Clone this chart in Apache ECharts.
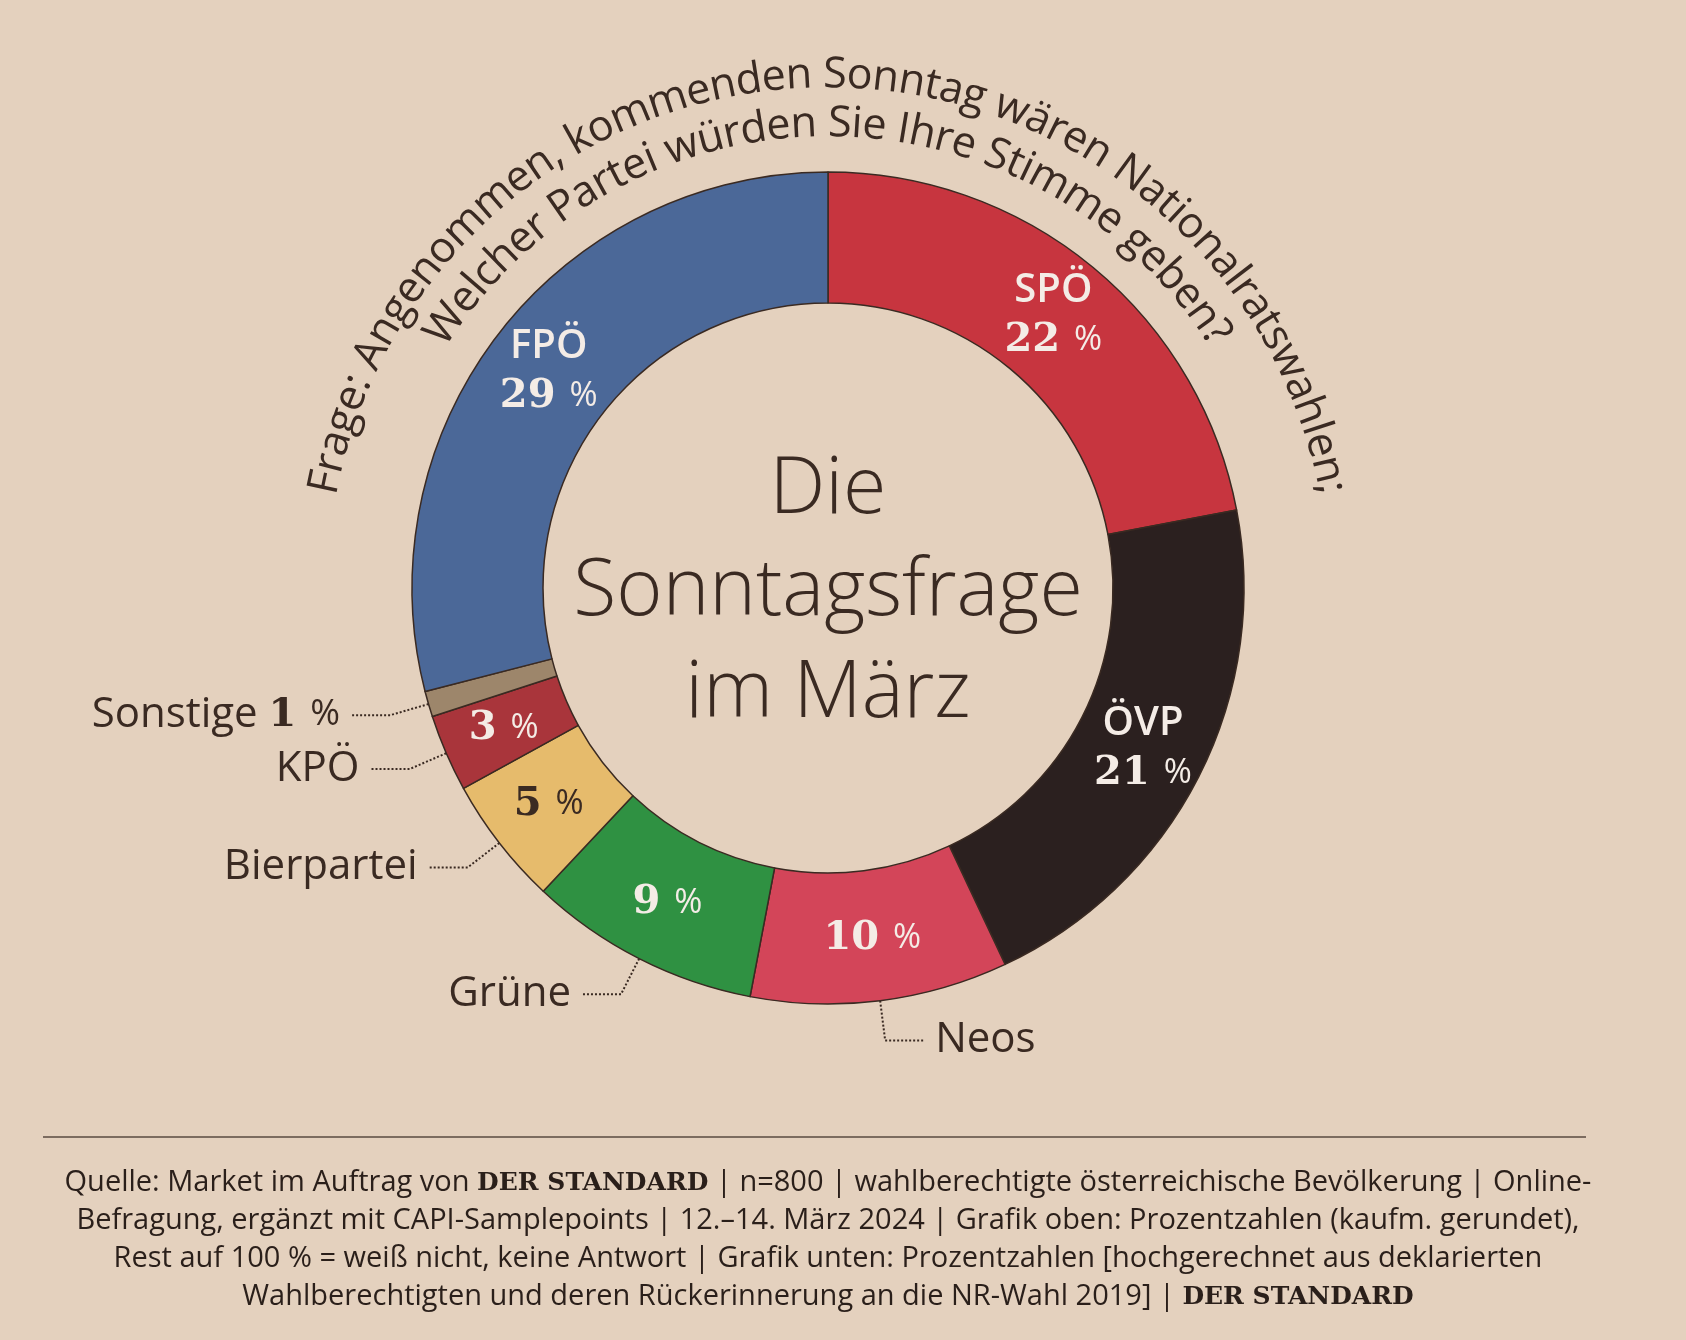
<!DOCTYPE html>
<html><head><meta charset="utf-8">
<script src="https://cdn.jsdelivr.net/npm/echarts@6/dist/echarts.min.js"></script>
<style>html,body{margin:0;padding:0;background:#e4d1be}#c{width:1686px;height:1340px}</style>
</head><body><div id="c"></div>
<script>
const parties = ["SPÖ", "ÖVP", "Neos", "Grüne", "Bierpartei", "KPÖ", "Sonstige", "FPÖ"];
const shares = [22, 21, 10, 9, 5, 3, 1, 29];
const colors = ["#c7353f", "#2b201f", "#d34559", "#2f9142", "#e6bb6c", "#a9353b", "#9d866b", "#4b6898"];
const insideNames = ["SPÖ", "ÖVP", "", "", "", "", "", "FPÖ"];
const outsideNames = ["", "", "Neos", "Grüne", "Bierpartei", "KPÖ", "Sonstige", ""];
const arcLines = ["Frage: Angenommen, kommenden Sonntag wären Nationalratswahlen;",
                  "Welcher Partei würden Sie Ihre Stimme geben?"];
const footer = [
  "Quelle: Market im Auftrag von {s|DER STANDARD} | n=800 | wahlberechtigte österreichische Bevölkerung | Online-",
  "Befragung, ergänzt mit CAPI-Samplepoints | 12.–14. März 2024 | Grafik oben: Prozentzahlen (kaufm. gerundet),",
  "Rest auf 100 % = weiß nicht, keine Antwort | Grafik unten: Prozentzahlen [hochgerechnet aus deklarierten",
  "Wahlberechtigten und deren Rückerinnerung an die NR-Wahl 2019] | {s|DER STANDARD}"
];

const ink = "#3a2a22";
const cx = 828, cy = 588;
const sans = "'Open Sans', 'Noto Sans', sans-serif";
const serif = "'DejaVu Serif', 'Liberation Serif', serif";

const chart = echarts.init(document.getElementById("c"));
const graphics = [];

// curved title text, one char at a time
const ctx = document.createElement("canvas").getContext("2d");
[[arcLines[0], 513], [arcLines[1], 464]].forEach(([txt, r]) => {
  ctx.font = "43px " + sans;
  const total = ctx.measureText(txt).width;
  let off = 0;
  for (const ch of txt) {
    const w = ctx.measureText(ch).width;
    const a = (off + w / 2 - total / 2) / r;
    graphics.push({
      type: "text", x: cx + r * Math.sin(a), y: cy - r * Math.cos(a), rotation: -a,
      style: { text: ch, fontSize: 43, fontFamily: sans, fill: ink, align: "center", verticalAlign: "middle" }
    });
    off += w;
  }
});

graphics.push({
  type: "text", x: cx, y: cy + 4,
  style: { text: "Die\nSonntagsfrage\nim März", fontSize: 79, fontWeight: 300, fontFamily: sans, fill: ink,
           align: "center", verticalAlign: "middle", lineHeight: 102 }
});
graphics.push({ type: "line", shape: { x1: 43, y1: 1137, x2: 1586, y2: 1137 }, style: { stroke: "#5a4a40", lineWidth: 1.5 } });
footer.forEach((t, i) => {
  graphics.push({
    type: "text", x: 828, y: 1183 + i * 38,
    style: {
      text: t, fontSize: 29, fontFamily: sans, fill: "#2a1f1a", align: "center", verticalAlign: "middle",
      rich: { s: { fontSize: 25, fontWeight: "bold", fontFamily: serif, fill: "#2a1f1a" } }
    }
  });
});

const data = parties.map((p, i) => ({ name: p, value: shares[i], itemStyle: { color: colors[i] } }));
const light = "#f4ece6";

chart.setOption({
  animation: false,
  graphic: graphics,
  series: [
    {
      type: "pie", center: [cx, cy], radius: [285, 416], startAngle: 90, clockwise: true,
      data,
      itemStyle: { borderColor: "#3a2a22", borderWidth: 1.5 },
      label: {
        position: "inside",
        formatter: (p) => {
          const i = p.dataIndex;
          if (parties[i] === "Sonstige") return "";
          const dark = parties[i] === "Bierpartei";
          const num = `{${dark ? "nd" : "n"}|${shares[i]} }{${dark ? "pd" : "p"}|%}`;
          return insideNames[i] ? `{t|${insideNames[i]}}\n${num}` : num;
        },
        rich: {
          t: { fontSize: 40, fontWeight: 600, fontFamily: sans, color: light, lineHeight: 50 },
          n: { fontSize: 40, fontWeight: "bold", fontFamily: serif, color: light, lineHeight: 50 },
          p: { fontSize: 34, fontFamily: sans, color: light },
          nd: { fontSize: 40, fontWeight: "bold", fontFamily: serif, color: ink },
          pd: { fontSize: 34, fontFamily: sans, color: ink }
        }
      },
      labelLine: { show: false }
    },
    {
      type: "pie", center: [cx, cy], radius: [285, 416], startAngle: 90, clockwise: true,
      silent: true,
      data: data.map((d, i) => ({
        ...d, itemStyle: { color: "rgba(0,0,0,0)" },
        label: { show: !!outsideNames[i] }, labelLine: { show: !!outsideNames[i] }
      })),
      label: {
        position: "outside",
        formatter: (p) => {
          const n = outsideNames[p.dataIndex];
          return n === "Sonstige" ? "Sonstige {b|1 }{c|%}" : n;
        },
        fontSize: 42, fontFamily: sans, color: ink, distanceToLabelLine: 10,
        rich: { b: { fontSize: 40, fontWeight: "bold", fontFamily: serif, color: ink },
                c: { fontSize: 36, fontFamily: sans, color: ink } }
      },
      labelLine: {
        length: 40, length2: 40,
        lineStyle: { color: ink, type: "dotted", width: 2 }
      },
      emphasis: { disabled: true }
    }
  ]
});
</script></body></html>
